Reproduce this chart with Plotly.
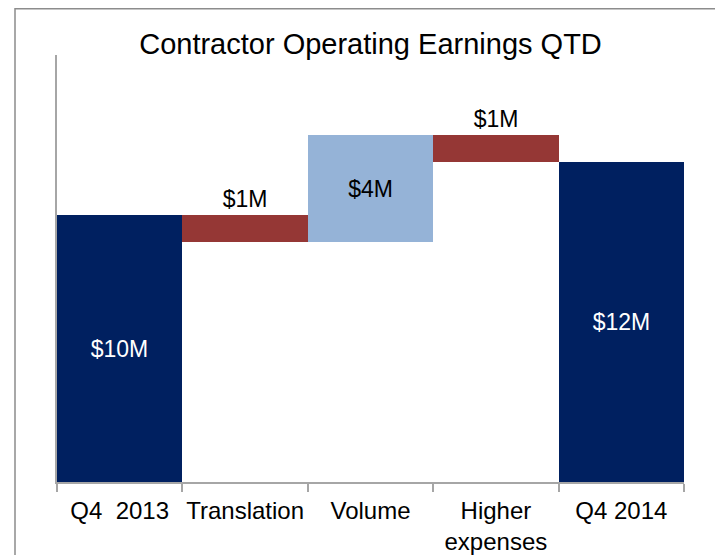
import plotly.graph_objects as go

categories = ["Q4  2013", "Translation", "Volume", "Higher<br>expenses", "Q4 2014"]
changes = [10, -1, 4, -1, 12]
measures = ["absolute", "relative", "relative", "relative", "total"]
labels = ["$10M", "$1M", "$4M", "$1M", "$12M"]

NAVY = "#002060"
RED = "#953735"
LIGHT = "#95B3D7"

# compute waterfall bases/heights from the data
bases, heights, colors = [], [], []
running = 0
for m, v in zip(measures, changes):
    if m == "absolute" or m == "total":
        bases.append(0)
        heights.append(v)
        colors.append(NAVY)
        running = v
    else:
        start = running
        end = running + v
        bases.append(min(start, end))
        heights.append(abs(v))
        colors.append(LIGHT if v > 0 else RED)
        running = end

textpos = ["inside" if (m != "relative" or v > 0) else "outside" for m, v in zip(measures, changes)]
textcol = ["white" if c == NAVY else "black" for c in colors]

# page body has an 8px margin; figure sized so that it fills the window exactly
W, H = 715, 547
L, T, R, B = 49, 47, 39, 73
PW, PH = W - L - R, H - T - B

fig = go.Figure(go.Bar(
    x=categories, y=heights, base=bases,
    marker=dict(color=colors, line=dict(width=0)),
    text=labels, textposition=textpos,
    insidetextanchor="middle",
    textfont=dict(color=textcol, size=23, family="Liberation Sans, Arial"),
    constraintext="none", cliponaxis=False,
    hoverinfo="skip",
))

fig.update_layout(
    width=W, height=H,
    margin=dict(l=L, r=R, t=T, b=B, pad=0, autoexpand=False),
    paper_bgcolor="white", plot_bgcolor="white",
    bargap=0, showlegend=False,
    font=dict(family="Liberation Sans, Arial", color="black"),
    title=dict(text="Contractor Operating Earnings QTD", font=dict(size=29, color="black"),
               x=0.5, xref="paper", xanchor="center", y=1 - 36 / H, yref="container", yanchor="middle"),
    xaxis=dict(type="category", showline=True, linecolor="#A6A6A6", linewidth=1.5,
               ticks="outside", tickson="boundaries", ticklen=8, tickcolor="#A6A6A6", tickwidth=1.5,
               ticklabelstandoff=6, tickangle=0, automargin=False,
               tickfont=dict(size=24, color="black"), showgrid=False, zeroline=False),
    yaxis=dict(range=[0, 16], showline=True, linecolor="#A6A6A6", linewidth=1.5,
               showticklabels=False, ticks="", showgrid=False, zeroline=False),
    shapes=[dict(type="rect", xref="paper", yref="paper",
                 x0=(7 - L) / PW, x1=(W + 40 - L) / PW, y0=(T + PH - (H + 60)) / PH, y1=(T + PH - 0.75) / PH,
                 line=dict(color="#8C8C8C", width=1.5), fillcolor="rgba(0,0,0,0)", layer="below")],
)

fig.write_html("out.html")
